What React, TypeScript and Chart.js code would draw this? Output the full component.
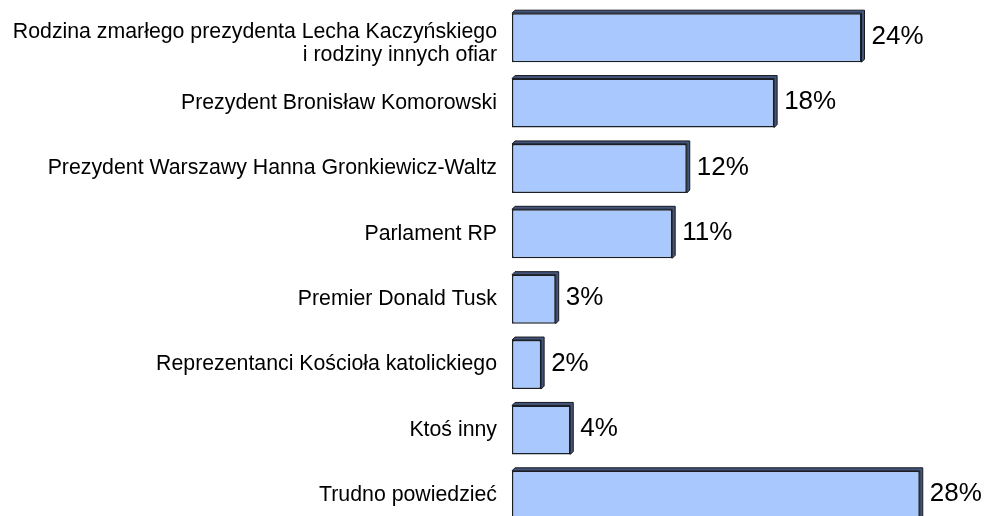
import React, { useEffect, useRef } from "react";
import { Chart, registerables } from "chart.js";

Chart.register(...registerables);

const categories: (string | string[])[] = [
  ["Rodzina zmarłego prezydenta Lecha Kaczyńskiego", "i rodziny innych ofiar"],
  "Prezydent Bronisław Komorowski",
  "Prezydent Warszawy Hanna Gronkiewicz-Waltz",
  "Parlament RP",
  "Premier Donald Tusk",
  "Reprezentanci Kościoła katolickiego",
  "Ktoś inny",
  "Trudno powiedzieć",
];

const values: number[] = [24, 18, 12, 11, 3, 2, 4, 28];

const FONT = "'Liberation Sans', Arial, sans-serif";
const DEPTH = 3;

const depthPlugin = {
  id: "depth3d",
  beforeDraw(chart: any) {
    const scale = chart.scales.y;
    if (!scale || !scale.getLabelItems) return;
    const items = scale.getLabelItems();
    if (items && items[0] && !items[0]._shifted) {
      items[0].textOffset += 6;
      items[0]._shifted = true;
    }
  },
  beforeDatasetsDraw(chart: any) {
    const ctx = chart.ctx;
    const meta = chart.getDatasetMeta(0);
    ctx.save();
    meta.data.forEach((el: any) => {
      const left = Math.min(el.base, el.x);
      const right = Math.max(el.base, el.x);
      const top = el.y - el.height / 2;
      const bottom = el.y + el.height / 2;
      ctx.beginPath();
      ctx.moveTo(left, top);
      ctx.lineTo(left + DEPTH, top - DEPTH);
      ctx.lineTo(right + DEPTH, top - DEPTH);
      ctx.lineTo(right + DEPTH, bottom - DEPTH);
      ctx.lineTo(right, bottom);
      ctx.lineTo(right, top);
      ctx.closePath();
      ctx.fillStyle = "#44547a";
      ctx.fill();
      ctx.lineWidth = 1;
      ctx.strokeStyle = "#151a22";
      ctx.stroke();
    });
    ctx.restore();
  },
  afterDatasetsDraw(chart: any) {
    const ctx = chart.ctx;
    const meta = chart.getDatasetMeta(0);
    ctx.save();
    ctx.font = `26px ${FONT}`;
    ctx.fillStyle = "#000";
    ctx.textAlign = "left";
    ctx.textBaseline = "middle";
    meta.data.forEach((el: any, i: number) => {
      ctx.fillText(`${values[i]}%`, el.x + 10, el.y - 1);
    });
    ctx.restore();
  },
};

export default function App() {
  const ref = useRef<HTMLCanvasElement | null>(null);
  useEffect(() => {
    if (!ref.current) return;
    const chart = new Chart(ref.current, {
      type: "bar",
      data: {
        labels: categories,
        datasets: [
          {
            data: values,
            backgroundColor: "#a9c9fe",
            borderColor: "#1a1e26",
            borderWidth: 1.5,
            borderSkipped: false,
            categoryPercentage: 1,
            barPercentage: 0.75,
          },
        ],
      },
      options: {
        indexAxis: "y",
        responsive: false,
        animation: false,
        layout: { padding: { top: 5, bottom: 12, right: 8, left: 0 } },
        plugins: {
          legend: { display: false },
          tooltip: { enabled: false },
        },
        scales: {
          x: { display: false, min: 0, max: 32 },
          y: {
            grid: { display: false, drawTicks: false },
            border: { display: false },
            afterFit: (scale: any) => {
              scale.width = 512;
              scale.paddingTop = 0;
              scale.paddingBottom = 0;
            },
            ticks: {
              color: "#000",
              padding: 15,
              font: { family: FONT, size: 21.3, lineHeight: 1.06 },
            },
          },
        },
      },
      plugins: [depthPlugin],
    });
    return () => chart.destroy();
  }, []);
  return (
    <div style={{ position: "absolute", left: 0, top: 0, width: 986, height: 540 }}>
      <canvas ref={ref} width={986} height={540} />
    </div>
  );
}
